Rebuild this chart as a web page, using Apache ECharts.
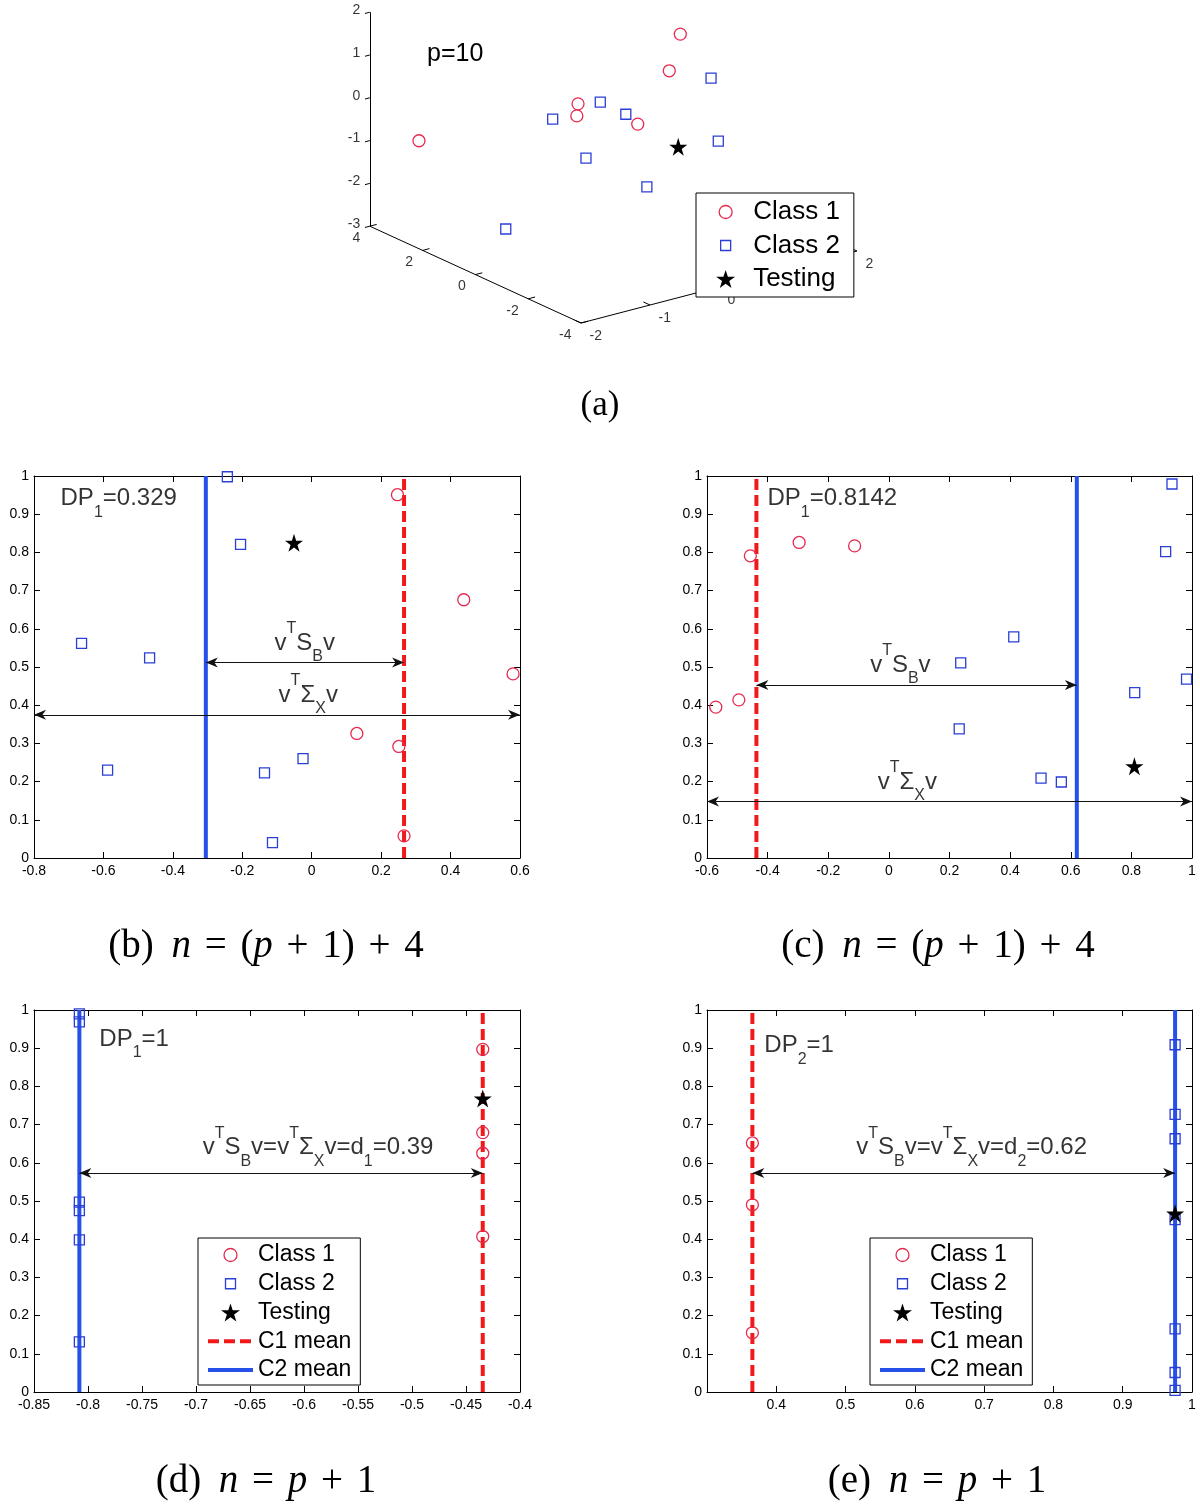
<!DOCTYPE html>
<html><head><meta charset="utf-8">
<script src="https://cdn.jsdelivr.net/npm/echarts@6/dist/echarts.min.js"></script>
<style>html,body{margin:0;padding:0;background:#fff;}#c{width:1200px;height:1509px;}</style>
</head><body><div id="c"></div>
<script>
// ================= DATA =================
// (a) 3-D scatter, p = 10 ; points are [x, y, z]
const a_class1  = [[0.97,0,1.37],[0.81,0,0.58],[-0.13,1,-0.08],[-0.53,0,0.09],[-0.03,-1,-0.03],[-1.67,3,-0.86]];
const a_class2  = [[0.65,-2,1.04],[-0.19,0,0.27],[-0.88,0,0.16],[0.18,0,-0.17],[1.52,0,-1.36],[-0.78,-1,-0.51],[-0.28,-2,-1.11],[-1.56,0,-2.12]];
const a_testing = [[0.94,0,-1.25]];
const a_xTicks = [-2,-1,0,1,2];
const a_yTicks = [4,2,0,-2,-4];
const a_zTicks = [-3,-2,-1,0,1,2];
const a_p = 10;

// (b) n = (p+1)+4
const b_class1  = [[0.247,0.951],[0.438,0.676],[0.580,0.482],[0.130,0.326],[0.251,0.292],[0.266,0.058]];
const b_class2  = [[-0.243,0.998],[-0.205,0.821],[-0.663,0.562],[-0.467,0.524],[-0.588,0.230],[-0.136,0.223],[-0.025,0.260],[-0.113,0.040]];
const b_testing = [[-0.051,0.825]];
const b_means = [0.266, -0.305];      // C1 mean, C2 mean
const b_dp = '0.329';

// (c) n = (p+1)+4
const c_class1  = [[-0.571,0.395],[-0.495,0.414],[-0.457,0.791],[-0.296,0.826],[-0.113,0.817]];
const c_class2  = [[0.934,0.979],[0.913,0.802],[0.412,0.579],[0.237,0.511],[0.982,0.468],[0.811,0.433],[0.232,0.338],[0.502,0.209],[0.569,0.199]];
const c_testing = [[0.810,0.240]];
const c_means = [-0.437, 0.62];
const c_dp = '0.8142';

// (d) n = p+1
const d_class1  = [[-0.4345,0.897],[-0.4345,0.679],[-0.4345,0.625],[-0.4345,0.407]];
const d_class2  = [[-0.808,0.990],[-0.808,0.969],[-0.808,0.497],[-0.808,0.475],[-0.808,0.398],[-0.808,0.131]];
const d_testing = [[-0.4345,0.768]];
const d_means = [-0.4345, -0.808];
const d_dp = '1', d_dist = '0.39';

// (e) n = p+1
const e_class1  = [[0.3655,0.652],[0.3655,0.490],[0.3655,0.155]];
const e_class2  = [[0.9756,0.909],[0.9756,0.727],[0.9756,0.663],[0.9756,0.451],[0.9756,0.165],[0.9756,0.051],[0.9756,0.004]];
const e_testing = [[0.9756,0.467]];
const e_means = [0.3655, 0.9756];
const e_dp = '1', e_dist = '0.62';

// x-axis tick settings  [min, max, interval]
const b_xTicks = [-0.8, 0.6, 0.2];
const c_xTicks = [-0.6, 1, 0.2];
const d_xTicks = [-0.85, -0.4, 0.05];
const e_xTicks = [0.3, 1, 0.1];
const yTicks01 = [0, 1, 0.1];

// ================= STYLE =================
const FONT = "'Liberation Sans', Arial, Helvetica, sans-serif";
const SERIF = "'Liberation Serif', 'Times New Roman', serif";
const RED_PT = '#e62a4f', BLUE_PT = '#2a3fd6', RED_LN = '#f01a1a', BLUE_LN = '#2650ea';
const STAR = 'path://M50,0 L61.2,34.5 L97.6,34.5 L68.2,55.9 L79.4,90.5 L50,69.1 L20.6,90.5 L31.8,55.9 L2.4,34.5 L38.8,34.5 Z';
const ICON_CIRC = 'path://M-9,-9 M9,9 M-6.5,0 A6.5,6.5 0 1 1 6.5,0 A6.5,6.5 0 1 1 -6.5,0 Z';
const ICON_SQR = 'path://M-9,-9 M9,9 M-5,-5 L5,-5 L5,5 L-5,5 Z';
// concave arrow head, tip at the centre of a square box
const ARROW = 'path://M0,-12 M24,12 M12,0 L17,12 L12,8.5 L7,12 Z';

// 3-D projection (MATLAB-like view) into a hidden 2-D plane
function proj(x, y, z) {
  const a = x + 2, b = y + 4, c = z + 3;
  return [69 * a - 26.4 * b, 18 * a + 12.1 * b + 42.8 * c];
}
const P = p => proj(p[0], p[1], p[2]);

const grids = [
  {left:340, top:0, width:540, height:340},
  {left:34, top:476, width:486, height:382},
  {left:707, top:476, width:485, height:382},
  {left:34, top:1010, width:486, height:382},
  {left:707, top:1010, width:485, height:382}
].map(g => Object.assign(g, {containLabel:false, outerBoundsMode:'none'}));

const xAxes = [{gridIndex:0, type:'value', min:-241, max:299, show:false}];
const yAxes = [{gridIndex:0, type:'value', min:-17, max:323, show:false}];
function axisCommon(gi) {
  return {type:'value', gridIndex:gi,
    axisLine:{show:true, onZero:false, lineStyle:{color:'#000', width:1}},
    axisTick:{show:true, inside:true, length:6, lineStyle:{color:'#000', width:1}},
    splitLine:{show:false}, minorTick:{show:false}};
}
function addAxes(gi, xt, hideMin) {
  xAxes.push(Object.assign(axisCommon(gi), {min:xt[0], max:xt[1], interval:xt[2], position:'bottom',
    axisLabel:{show:true, color:'#000', fontSize:14, fontFamily:FONT, margin:6, showMinLabel:!hideMin, showMaxLabel:true}}));
  xAxes.push(Object.assign(axisCommon(gi), {min:xt[0], max:xt[1], interval:xt[2], position:'top', axisLabel:{show:false}}));
  yAxes.push(Object.assign(axisCommon(gi), {min:yTicks01[0], max:yTicks01[1], interval:yTicks01[2], position:'left',
    axisLabel:{show:true, color:'#000', fontSize:14, fontFamily:FONT, margin:5, showMinLabel:true, showMaxLabel:true}}));
  yAxes.push(Object.assign(axisCommon(gi), {min:yTicks01[0], max:yTicks01[1], interval:yTicks01[2], position:'right', axisLabel:{show:false}}));
}
addAxes(1, b_xTicks, false);
addAxes(2, c_xTicks, false);
addAxes(3, d_xTicks, false);
addAxes(4, e_xTicks, true);

const RICH = {
  m:{fontSize:24, lineHeight:44, fontFamily:FONT, color:'#000'},
  sp:{fontSize:16, lineHeight:26, verticalAlign:'top', fontFamily:FONT, color:'#000'},
  sb:{fontSize:16, lineHeight:18, verticalAlign:'bottom', fontFamily:FONT, color:'#000'}
};

function markerSeries(xi, yi, c1, c2, t) {
  return [
    {type:'scatter', name:'Class 1', xAxisIndex:xi, yAxisIndex:yi, data:c1, symbol:'circle', symbolSize:12,
      itemStyle:{color:'rgba(0,0,0,0)', borderColor:RED_PT, borderWidth:1.3, opacity:1}, z:4, silent:true},
    {type:'scatter', name:'Class 2', xAxisIndex:xi, yAxisIndex:yi, data:c2, symbol:'rect', symbolSize:10,
      itemStyle:{color:'rgba(0,0,0,0)', borderColor:BLUE_PT, borderWidth:1.3, opacity:1}, z:4, silent:true},
    {type:'scatter', name:'Testing', xAxisIndex:xi, yAxisIndex:yi, data:t, symbol:STAR, symbolSize:18,
      itemStyle:{color:'#000', opacity:1}, z:4, silent:true}
  ];
}

const series = [];
// ---------- (a) ----------
const xr = [a_xTicks[0], a_xTicks[a_xTicks.length-1]];
const yr = [Math.min(...a_yTicks), Math.max(...a_yTicks)];
const zr = [a_zTicks[0], a_zTicks[a_zTicks.length-1]];
const aSegs = [
  [proj(xr[0], yr[1], zr[0]), proj(xr[0], yr[1], zr[1])],
  [proj(xr[0], yr[1], zr[0]), proj(xr[0], yr[0], zr[0])],
  [proj(xr[0], yr[0], zr[0]), proj(xr[1], yr[0], zr[0])]
];
a_zTicks.forEach(z => aSegs.push([proj(xr[0], yr[1], z), proj(xr[0]-0.07, yr[1], z)]));
a_yTicks.forEach(y => aSegs.push([proj(xr[0], y, zr[0]), proj(xr[0]+0.1, y, zr[0])]));
a_xTicks.forEach(x => aSegs.push([proj(x, yr[0], zr[0]), proj(x, yr[0]+0.25, zr[0])]));
series.push({type:'lines', coordinateSystem:'cartesian2d', xAxisIndex:0, yAxisIndex:0, polyline:false, silent:true,
  data:aSegs.map(s => ({coords:s})), lineStyle:{color:'#000', width:1, opacity:1}, symbol:'none', z:2});
const tickLbl = (data, pos, dist, off) => ({type:'scatter', xAxisIndex:0, yAxisIndex:0, silent:true, symbolSize:1,
  itemStyle:{color:'rgba(0,0,0,0)'}, data,
  label:{show:true, position:pos, distance:dist, offset:off, formatter:'{b}', color:'#000', fontSize:14, fontFamily:FONT}});
series.push(tickLbl(a_zTicks.map(z => ({value:proj(xr[0], yr[1], z), name:String(z)})), 'left', 9, [0,-2]));
series.push(tickLbl(a_yTicks.map(y => ({value:proj(xr[0], y, zr[0]), name:String(y)})), 'left', 9, [0,12]));
series.push(tickLbl(a_xTicks.map(x => ({value:proj(x, yr[0], zr[0]), name:String(x)})), 'right', 8, [0,13]));
series.push(...markerSeries(0, 0, a_class1.map(P), a_class2.map(P), a_testing.map(P)));

// ---------- panels (b)-(e) ----------
function panel(k, c1, c2, t, means, arrows, texts) {
  const xi = 2*k - 1, yi = 2*k - 1;
  series.push({type:'line', name:'C1 mean', xAxisIndex:xi, yAxisIndex:yi, data:[[means[0],0],[means[0],1]], symbol:'none',
    lineStyle:{color:RED_LN, width:4, type:[11,5]}, itemStyle:{color:RED_LN}, z:3, silent:true});
  series.push({type:'line', name:'C2 mean', xAxisIndex:xi, yAxisIndex:yi, data:[[means[1],0],[means[1],1]], symbol:'none',
    lineStyle:{color:BLUE_LN, width:4, type:'solid'}, itemStyle:{color:BLUE_LN}, z:3, silent:true});
  series.push(...markerSeries(xi, yi, c1, c2, t));
  series.push({type:'lines', coordinateSystem:'cartesian2d', xAxisIndex:xi, yAxisIndex:yi, polyline:false, silent:true,
    data:arrows.map(a => ({coords:[[a[1],a[0]],[a[2],a[0]]]})), lineStyle:{color:'#111', width:1, opacity:1},
    symbol:[ARROW, ARROW], symbolSize:24, itemStyle:{color:'#111'}, z:5});
  series.push({type:'scatter', xAxisIndex:xi, yAxisIndex:yi, silent:true, symbolSize:1, itemStyle:{color:'rgba(0,0,0,0)'}, z:6,
    label:{show:true, rich:RICH},
    data:texts.map(t => ({value:[t[0],t[1]], label:{show:true, position:t[3], distance:0, formatter:t[2], rich:RICH}}))});
}
const SB = '{m|v}{sp|T}{m|S}{sb|B}{m|v}';
const SX = '{m|v}{sp|T}{m|Σ}{sb|X}{m|v}';
const dpTxt = (i, v) => `{m|DP}{sb|${i}}{m|=${v}}`;
const eqTxt = (i, v) => `{m|v}{sp|T}{m|S}{sb|B}{m|v=v}{sp|T}{m|Σ}{sb|X}{m|v=d}{sb|${i}}{m|=${v}}`;

panel(1, b_class1, b_class2, b_testing, b_means,
  [[0.512, b_means[1], b_means[0]], [0.375, b_xTicks[0], b_xTicks[1]]],
  [[-0.725, 0.942, dpTxt(1, b_dp), 'right'], [-0.02, 0.563, SB, 'inside'], [-0.01, 0.427, SX, 'inside']]);
panel(2, c_class1, c_class2, c_testing, c_means,
  [[0.453, c_means[0], c_means[1]], [0.148, c_xTicks[0], c_xTicks[1]]],
  [[-0.402, 0.942, dpTxt(1, c_dp), 'right'], [0.038, 0.505, SB, 'inside'], [0.061, 0.199, SX, 'inside']]);
panel(3, d_class1, d_class2, d_testing, d_means,
  [[0.573, d_means[1], d_means[0]]],
  [[-0.79, 0.924, dpTxt(1, d_dp), 'right'], [-0.587, 0.641, eqTxt(1, d_dist), 'inside']]);
panel(4, e_class1, e_class2, e_testing, e_means,
  [[0.573, e_means[0], e_means[1]]],
  [[0.382, 0.908, dpTxt(2, e_dp), 'right'], [0.682, 0.641, eqTxt(2, e_dist), 'inside']]);

// ---------- legends ----------
const markerItems = [{name:'Class 1', icon:ICON_CIRC},{name:'Class 2', icon:ICON_SQR},{name:'Testing', icon:STAR}];
const lineItems = [{name:'C1 mean', itemStyle:{opacity:0, color:'rgba(0,0,0,0)', borderWidth:0}},
                   {name:'C2 mean', itemStyle:{opacity:0, color:'rgba(0,0,0,0)', borderWidth:0}}];
function legend(left, top, padding, fontSize, lineH, gap, data) {
  return {orient:'vertical', selectedMode:false, backgroundColor:'#fff', borderColor:'#000', borderWidth:1,
    borderRadius:0, itemWidth:45, itemHeight:18, z:10, left, top, padding, itemGap:gap,
    itemStyle:{borderWidth:1.3}, lineStyle:{width:4},
    textStyle:{fontSize, lineHeight:lineH, fontFamily:FONT, color:'#000'}, data};
}
const legends = [
  legend(696, 193, [6,14,5,20], 26, 26, 7.5, markerItems),
  legend(198, 1238, [5,9,3,8], 23, 24, 4.75, markerItems.concat(lineItems)),
  legend(870, 1238, [5,9,3,8], 23, 24, 4.75, markerItems.concat(lineItems))
];

// ---------- captions / free text ----------
function caption(x, y, text, size) {
  return {type:'text', x, y, silent:true, z:20, style:{text, fill:'#000', align:'center', verticalAlign:'middle',
    textAlign:'center', textVerticalAlign:'middle', fontSize:size, fontFamily:SERIF,
    rich:{i:{fontStyle:'italic', fontSize:size, fontFamily:SERIF, fill:'#000'},
          o:{fontSize:size, fontFamily:SERIF, fill:'#000', padding:[0,4,0,4]},
          g:{fontSize:size, fontFamily:SERIF, fill:'#000', padding:[0,8,0,0]}}}};
}
const graphic = [
  {type:'text', x:427, y:54, silent:true, z:20, style:{text:'p=' + a_p, fill:'#000', fontSize:25, fontFamily:FONT,
    align:'left', verticalAlign:'middle', textAlign:'left', textVerticalAlign:'middle'}},
  caption(600, 406, '(a)', 35),
  caption(266, 947, '{g|(b)} {i|n} {o|=} ({i|p} {o|+} 1) {o|+} 4', 39),
  caption(938, 947, '{g|(c)} {i|n} {o|=} ({i|p} {o|+} 1) {o|+} 4', 39),
  caption(266, 1482, '{g|(d)} {i|n} {o|=} {i|p} {o|+} 1', 39),
  caption(937, 1482, '{g|(e)} {i|n} {o|=} {i|p} {o|+} 1', 39)
];

const chart = echarts.init(document.getElementById('c'), null, {renderer:'canvas'});
chart.setOption({
  animation:false, backgroundColor:'#fff',
  grid:grids, xAxis:xAxes, yAxis:yAxes, legend:legends, series, graphic
});
</script></body></html>
